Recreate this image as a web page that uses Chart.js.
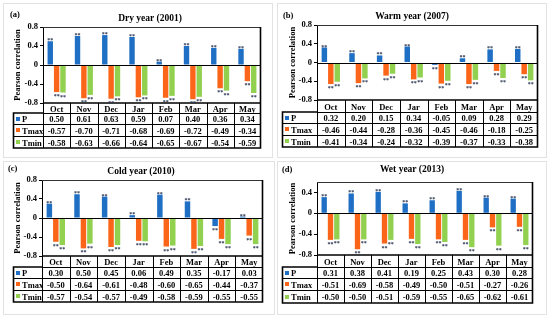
<!DOCTYPE html>
<html><head><meta charset="utf-8">
<script src="https://cdn.jsdelivr.net/npm/chart.js@4"></script>
<style>
html,body{margin:0;padding:0;background:#fff;}
#wrap{position:relative;width:550px;height:320px;background:#fff;overflow:hidden;font-family:"Liberation Serif","Times New Roman",serif;font-weight:bold;color:#000;}
.panel{position:absolute;width:275px;height:160px;}
.frame{position:absolute;border:1px solid #e2e2e2;}
.t{position:absolute;white-space:nowrap;line-height:1;transform:translate(-50%,-50%);}
.l{position:absolute;white-space:nowrap;line-height:1;transform:translate(0,-50%);}
canvas{position:absolute;left:0;top:0;}
</style></head>
<body><div id="wrap"></div>
<script>
const categories = ['Oct','Nov','Dec','Jar','Feb','Mar','Apr','May'];
const seriesNames = ['P','Tmax','Tmin'];
const seriesColors = ['#1f6fc4','#fb6519','#92d050'];

const dryP    = [0.50, 0.61, 0.63, 0.59, 0.07, 0.40, 0.36, 0.34];
const dryTmax = [-0.57,-0.70,-0.71,-0.68,-0.69,-0.72,-0.49,-0.34];
const dryTmin = [-0.58,-0.63,-0.66,-0.64,-0.65,-0.67,-0.54,-0.59];

const warmP    = [0.32, 0.20, 0.15, 0.34,-0.05, 0.09, 0.28, 0.29];
const warmTmax = [-0.46,-0.44,-0.28,-0.36,-0.45,-0.46,-0.18,-0.25];
const warmTmin = [-0.41,-0.34,-0.24,-0.32,-0.39,-0.37,-0.33,-0.38];

const coldP    = [0.30, 0.50, 0.45, 0.06, 0.49, 0.35,-0.17, 0.03];
const coldTmax = [-0.50,-0.64,-0.61,-0.48,-0.60,-0.65,-0.44,-0.37];
const coldTmin = [-0.57,-0.54,-0.57,-0.49,-0.58,-0.59,-0.55,-0.55];

const wetP    = [0.31, 0.38, 0.41, 0.19, 0.25, 0.43, 0.30, 0.28];
const wetTmax = [-0.51,-0.69,-0.58,-0.49,-0.50,-0.51,-0.27,-0.26];
const wetTmin = [-0.50,-0.50,-0.51,-0.59,-0.55,-0.65,-0.62,-0.61];

const ticksFull = [-0.8,-0.4,0,0.4,0.8];
const tickLabelsFull = ['-0.8','-0.4','0','0.4','0.8'];
const ticksWet = [-0.8,-0.4,0,0.4];
const tickLabelsWet = ['-0.8','-0.4','0','0.4'];
const yTitle = 'Pearson correlation';
const sigMark = '**';

const panels = [
  {x:0,  y:0,   label:'(a)', title:'Dry year (2001)',  data:[dryP,dryTmax,dryTmin],   yMin:-0.8,yMax:0.8, ticks:ticksFull, tickLabels:tickLabelsFull,
   plot:[43,27,261,103], rows:[113,124,136,148], tableLeft:13, titleX:150, titleY:19, labelX:10, labelY:14, frame:[3,3,268,153]},
  {x:275,y:0,   label:'(b)', title:'Warm year (2007)', data:[warmP,warmTmax,warmTmin], yMin:-0.8,yMax:0.8, ticks:ticksFull, tickLabels:tickLabelsFull,
   plot:[42,25,263,100], rows:[112,123,135,147], tableLeft:7, titleX:137, titleY:17, labelX:8, labelY:15, frame:[2,3,268,153]},
  {x:0,  y:160, label:'(c)', title:'Cold year (2010)', data:[coldP,coldTmax,coldTmin], yMin:-0.8,yMax:0.8, ticks:ticksFull, tickLabels:tickLabelsFull,
   plot:[42,20,263,96], rows:[107,118,130,142], tableLeft:13, titleX:141, titleY:12, labelX:8, labelY:8, frame:[3,1,270,152]},
  {x:275,y:160, label:'(d)', title:'Wet year (2013)',  data:[wetP,wetTmax,wetTmin],   yMin:-0.8,yMax:0.6, ticks:ticksWet, tickLabels:tickLabelsWet,
   plot:[42,22,258,95], rows:[107,118,130,143], tableLeft:7, titleX:137, titleY:10, labelX:7, labelY:9, frame:[2,1,268,152]}
];

const FONT = '"Liberation Serif","Times New Roman",serif';
const wrap = document.getElementById('wrap');

function addText(parent, cls, txt, x, y, size){
  const d = document.createElement('div');
  d.className = cls; d.textContent = txt;
  d.style.left = x+'px'; d.style.top = y+'px'; d.style.fontSize = size+'px';
  parent.appendChild(d); return d;
}

const overlay = {
  id:'overlay',
  afterDatasetsDraw(chart, args, opts){
    const p = opts.panel;
    const ctx = chart.ctx;
    const a = chart.chartArea;
    const ys = chart.scales.y;
    ctx.save();
    const y0 = Math.round(ys.getPixelForValue(0))+0.5;
    ctx.strokeStyle = '#000'; ctx.lineWidth = 1;
    ctx.beginPath(); ctx.moveTo(a.left, y0); ctx.lineTo(a.right, y0); ctx.stroke();
    ctx.strokeStyle = '#333';
    ctx.beginPath();
    ctx.moveTo(a.left, a.top+0.5); ctx.lineTo(a.right-0.5, a.top+0.5); ctx.lineTo(a.right-0.5, a.bottom);
    ctx.stroke();
    const colW = (a.right - a.left)/categories.length;
    const r = p.rows, tl = p.tableLeft, bot = a.bottom;
    ctx.strokeStyle = '#000'; ctx.lineWidth = 1;
    ctx.beginPath();
    for (let i=1;i<categories.length;i++){
      const xx = Math.round(a.left + i*colW)+0.5;
      ctx.moveTo(xx, bot); ctx.lineTo(xx, r[3]);
    }
    ctx.moveTo(a.left, r[0]+0.5); ctx.lineTo(a.right, r[0]+0.5);
    ctx.moveTo(tl, r[1]+0.5); ctx.lineTo(a.right, r[1]+0.5);
    ctx.moveTo(tl, r[2]+0.5); ctx.lineTo(a.right, r[2]+0.5);
    ctx.moveTo(a.left+0.5, bot); ctx.lineTo(a.left+0.5, r[3]);
    ctx.stroke();
    ctx.lineWidth = 1.6;
    ctx.beginPath();
    ctx.moveTo(a.left+0.5, bot); ctx.lineTo(a.right-0.5, bot);
    ctx.moveTo(a.right-0.5, a.top); ctx.lineTo(a.right-0.5, r[3]);
    ctx.lineTo(tl+0.5, r[3]); ctx.lineTo(tl+0.5, r[0]); ctx.lineTo(a.left+0.5, r[0]);
    ctx.stroke();
    for (let s=0;s<3;s++){
      const cy = (r[s]+r[s+1])/2;
      ctx.fillStyle = seriesColors[s];
      ctx.fillRect(tl+3, Math.round(cy-2), 4, 4);
    }
    ctx.fillStyle = '#2a3550';
    ctx.font = 'bold 6px '+FONT;
    ctx.textAlign = 'center'; ctx.textBaseline = 'alphabetic';
    chart.data.datasets.forEach((ds, di) => {
      const meta = chart.getDatasetMeta(di);
      meta.data.forEach((bar, i) => {
        const v = ds.data[i];
        if (v >= 0) ctx.fillText(sigMark, bar.x, bar.y + 1);
        else ctx.fillText(sigMark, bar.x, bar.y + 6);
      });
    });
    ctx.restore();
  }
};

panels.forEach(p => {
  const div = document.createElement('div');
  div.className = 'panel'; div.style.left = p.x+'px'; div.style.top = p.y+'px';
  wrap.appendChild(div);
  const fr = document.createElement('div'); fr.className='frame';
  fr.style.left=p.frame[0]+'px'; fr.style.top=p.frame[1]+'px'; fr.style.width=p.frame[2]+'px'; fr.style.height=p.frame[3]+'px';
  div.appendChild(fr);
  const cv = document.createElement('canvas'); cv.width = 275; cv.height = 160;
  cv.style.width='275px'; cv.style.height='160px';
  div.appendChild(cv);

  const chart = new Chart(cv, {
    type:'bar',
    data:{
      labels: categories,
      datasets: seriesNames.map((n, s) => ({
        label:n, data:p.data[s], backgroundColor:seriesColors[s], borderWidth:0,
        categoryPercentage:0.7, barPercentage:0.85
      }))
    },
    options:{
      responsive:false, animation:false, devicePixelRatio:1,
      layout:{padding:{left:0, top:p.plot[1], right:275-p.plot[2], bottom:160-p.plot[3]}},
      plugins:{legend:{display:false}, tooltip:{enabled:false}, overlay:{panel:p}},
      scales:{
        x:{display:false},
        y:{
          min:p.yMin, max:p.yMax,
          afterBuildTicks(sc){ sc.ticks = p.ticks.map(v => ({value:v})); },
          afterFit(sc){ sc.width = p.plot[0]; },
          ticks:{
            callback(v){ const i = p.ticks.indexOf(v); return i>=0 ? p.tickLabels[i] : ''; },
            color:'#000', padding:2, font:{family:FONT, size:8.5, weight:'bold'}
          },
          grid:{drawOnChartArea:false, drawTicks:true, tickLength:3, color:'#000'},
          border:{display:true, color:'#000', width:1},
          title:{display:true, text:yTitle, color:'#000', padding:{top:13,bottom:0}, font:{family:FONT, size:8.5, weight:'bold'}}
        }
      }
    },
    plugins:[overlay]
  });

  addText(div, 'l', p.label, p.labelX, p.labelY, 8.5);
  addText(div, 't', p.title, p.titleX, p.titleY, 9.5);
  const a = chart.chartArea;
  const xs = chart.scales.x;
  const r = p.rows;
  categories.forEach((c, i) => {
    const cx = xs.getPixelForValue(i);
    addText(div, 't', c, cx, (a.bottom + r[0])/2 + 0.5, 8.5);
    for (let s=0;s<3;s++){
      addText(div, 't', p.data[s][i].toFixed(2), cx, (r[s]+r[s+1])/2 + 0.5, 8.5);
    }
  });
  for (let s=0;s<3;s++){
    addText(div, 'l', seriesNames[s], p.tableLeft+9, (r[s]+r[s+1])/2 + 0.5, 8.5);
  }
});
</script></body></html>
